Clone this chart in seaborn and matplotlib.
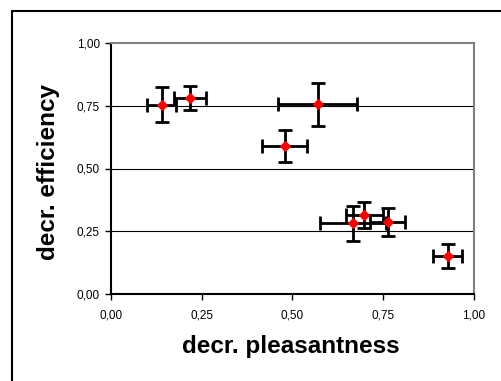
import numpy as np
import pandas as pd
import matplotlib
matplotlib.use('Agg')
import matplotlib.pyplot as plt
import seaborn as sns
from matplotlib.lines import Line2D

# values
pleasantness = [0.140, 0.218, 0.569, 0.479, 0.667, 0.698, 0.762, 0.927]
efficiency = [0.754, 0.782, 0.756, 0.588, 0.281, 0.313, 0.288, 0.151]
pleasantness_err = [0.040, 0.045, 0.110, 0.062, 0.090, 0.050, 0.048, 0.040]
efficiency_err = [0.070, 0.047, 0.086, 0.064, 0.068, 0.052, 0.056, 0.047]
ticks = [0.0, 0.25, 0.5, 0.75, 1.0]
tick_labels = ['0,00', '0,25', '0,50', '0,75', '1,00']

df = pd.DataFrame({'pleasantness': pleasantness, 'efficiency': efficiency})

sns.set_style('white')
plt.rcParams['font.family'] = ['Liberation Sans', 'DejaVu Sans']
plt.rcParams['text.color'] = 'black'
plt.rcParams['xtick.color'] = 'black'
plt.rcParams['ytick.color'] = 'black'

fig = plt.figure(figsize=(5.02, 3.81), dpi=100)
ax = fig.add_axes([111/502, 1 - 294/381, (474-111)/502, (294-43)/381])

# horizontal grid lines
for v in ticks[1:-1]:
    ax.axhline(v, color='black', lw=0.8, zorder=1)

ax.errorbar(pleasantness, efficiency, xerr=pleasantness_err, yerr=efficiency_err,
            fmt='none', ecolor='black', elinewidth=2, capsize=5, capthick=2, zorder=2)
sns.scatterplot(data=df, x='pleasantness', y='efficiency', ax=ax, marker='D',
                color='red', s=35, edgecolor='red', linewidth=0, zorder=3)

ax.set_xlim(0, 1)
ax.set_ylim(0, 1)
ax.set_xticks(ticks)
ax.set_xticklabels(tick_labels, fontsize=8.5)
ax.set_yticks(ticks)
ax.set_yticklabels(tick_labels, fontsize=8.5)
ax.tick_params(axis='both', direction='out', length=4, width=1, color='black',
               labelcolor='black', left=True, bottom=True, pad=4)
ax.tick_params(axis='x', pad=7)

for side in ['left', 'bottom']:
    ax.spines[side].set_color('black')
    ax.spines[side].set_linewidth(1.5)
for side in ['top', 'right']:
    ax.spines[side].set_color('#808080')
    ax.spines[side].set_linewidth(1.5)

ax.set_xlabel('')
ax.set_ylabel('')
fig.text(291/502, 1 - 346/381, 'decr. pleasantness', fontsize=17.5, fontweight='bold',
         ha='center', va='center', color='black')
fig.text(49/502, 1 - 172/381, 'decr. efficiency', fontsize=17.5, fontweight='bold',
         ha='center', va='center', rotation=90, color='black')

# outer chart frame (cut off at right and bottom)
fig.add_artist(Line2D([12/502, 12/502], [0, 1 - 11/381], color='black', lw=1.5))
fig.add_artist(Line2D([12/502, 1], [1 - 11/381, 1 - 11/381], color='black', lw=1.5))

fig.savefig('out.png', dpi=100)
